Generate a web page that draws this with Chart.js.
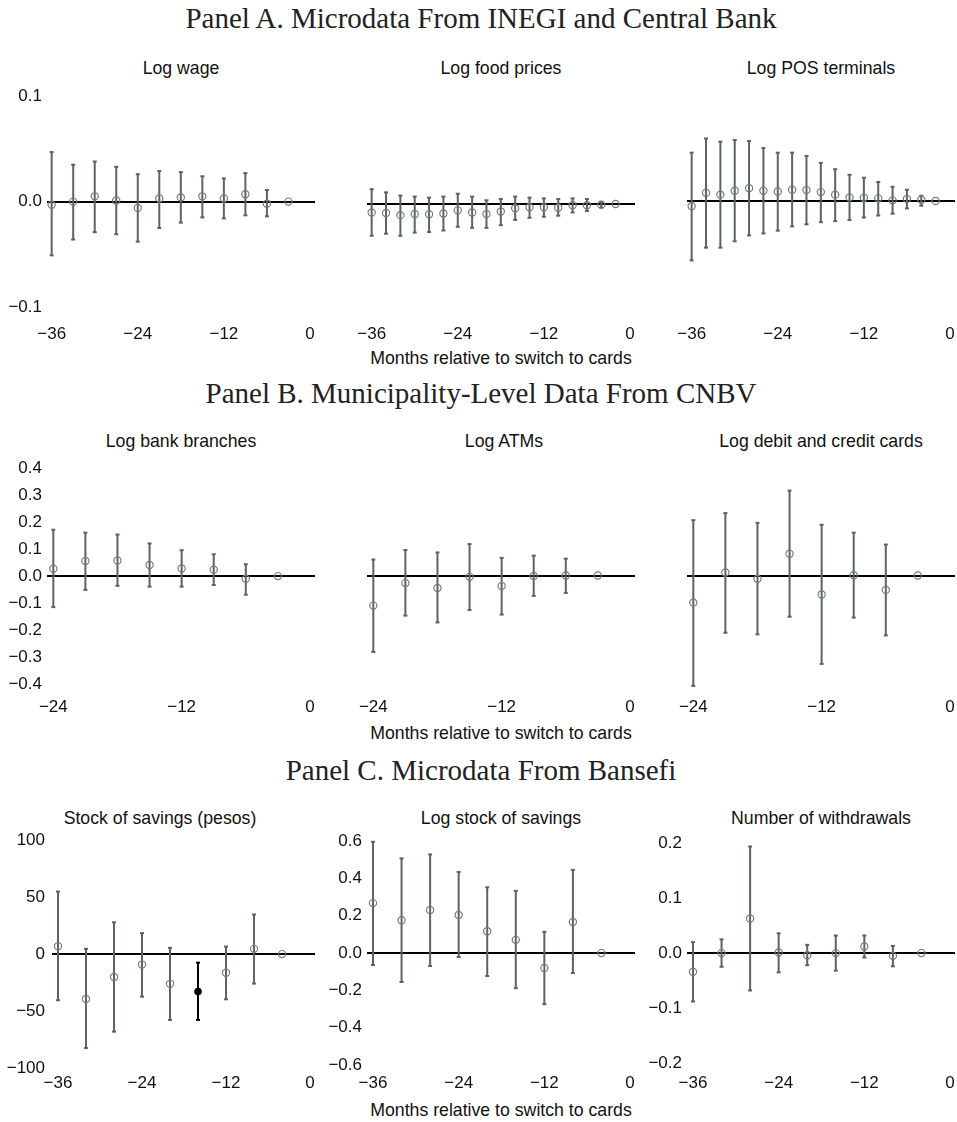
<!DOCTYPE html>
<html lang="en">
<head>
<meta charset="UTF-8">
<title>Event study: months relative to switch to cards</title>
<script src="https://cdn.jsdelivr.net/npm/chart.js"></script>
<style>
    body {
        margin: 0;
        padding: 0;
        background: #fff;
        width: 957px;
        height: 1122px;
        overflow: hidden;
        position: relative;
        font-family: "Liberation Sans", Arial, sans-serif;
        color: #111;
    }
    .heading {
        position: absolute;
        transform: translate(-50%, -50%);
        font-family: "Liberation Serif", "Times New Roman", serif;
        font-size: 29px;
        white-space: nowrap;
        color: #222;
    }
    .title, .xtitle {
        position: absolute;
        transform: translate(-50%, -50%);
        font-size: 17.7px;
        white-space: nowrap;
    }
    canvas {
        position: absolute;
    }
</style>
</head>
<body>

<div class="heading" style="left:481px; top:18px;">Panel A. Microdata From INEGI and Central Bank</div>
<div class="title" style="left:181px; top:68px;">Log wage</div>
<div class="title" style="left:501px; top:68px;">Log food prices</div>
<div class="title" style="left:821px; top:68px;">Log POS terminals</div>
<div class="xtitle" style="left:501px; top:358px;">Months relative to switch to cards</div>

<div class="heading" style="left:481px; top:393px;">Panel B. Municipality-Level Data From CNBV</div>
<div class="title" style="left:181px; top:441px;">Log bank branches</div>
<div class="title" style="left:504px; top:441px;">Log ATMs</div>
<div class="title" style="left:821px; top:441px;">Log debit and credit cards</div>
<div class="xtitle" style="left:501px; top:733px;">Months relative to switch to cards</div>

<div class="heading" style="left:481px; top:770px;">Panel C. Microdata From Bansefi</div>
<div class="title" style="left:160px; top:818px;">Stock of savings (pesos)</div>
<div class="title" style="left:501px; top:818px;">Log stock of savings</div>
<div class="title" style="left:821px; top:818px;">Number of withdrawals</div>
<div class="xtitle" style="left:501px; top:1110px;">Months relative to switch to cards</div>

<canvas id="wage"></canvas>
<canvas id="food"></canvas>
<canvas id="pos"></canvas>
<canvas id="branches"></canvas>
<canvas id="atms"></canvas>
<canvas id="cards"></canvas>
<canvas id="savings"></canvas>
<canvas id="logSavings"></canvas>
<canvas id="withdrawals"></canvas>

<script>
// ---- Panel A ----
const wageMonths = [-36, -33, -30, -27, -24, -21, -18, -15, -12, -9, -6, -3];
const wageCoef = [-0.003, 0.000, 0.005, 0.001, -0.006, 0.003, 0.004, 0.005, 0.003, 0.007, -0.002, 0];
const wageHi = [0.047, 0.035, 0.038, 0.033, 0.026, 0.029, 0.028, 0.024, 0.022, 0.027, 0.011, null];
const wageLo = [-0.051, -0.036, -0.029, -0.031, -0.038, -0.025, -0.020, -0.015, -0.016, -0.013, -0.014, null];

const foodMonths = [-36, -34, -32, -30, -28, -26, -24, -22, -20, -18, -16, -14, -12, -10, -8, -6, -4, -2];
const foodCoef = [-0.008, -0.0085, -0.0105, -0.0095, -0.0097, -0.009, -0.006, -0.008, -0.0095, -0.007, -0.004, -0.003, -0.003, -0.0035, -0.0012, -0.0012, -0.0006, 0];
const foodHi = [0.014, 0.011, 0.008, 0.007, 0.006, 0.007, 0.0097, 0.007, 0.0035, 0.0047, 0.007, 0.006, 0.0053, 0.0047, 0.0053, 0.0047, 0.002, null];
const foodLo = [-0.030, -0.028, -0.030, -0.027, -0.0265, -0.025, -0.0215, -0.0225, -0.0225, -0.020, -0.015, -0.013, -0.012, -0.011, -0.008, -0.0066, -0.0034, null];

const posMonths = [-36, -34, -32, -30, -28, -26, -24, -22, -20, -18, -16, -14, -12, -10, -8, -6, -4, -2];
const posCoef = [-0.005, 0.0078, 0.006, 0.0097, 0.012, 0.0097, 0.009, 0.0106, 0.0103, 0.0084, 0.006, 0.0034, 0.003, 0.0025, 0.0006, 0.002, 0.0012, 0];
const posHi = [0.0456, 0.059, 0.056, 0.0575, 0.0566, 0.050, 0.0456, 0.0456, 0.0425, 0.036, 0.030, 0.0247, 0.022, 0.018, 0.0134, 0.0106, 0.005, null];
const posLo = [-0.056, -0.044, -0.044, -0.038, -0.0325, -0.0306, -0.028, -0.024, -0.022, -0.020, -0.019, -0.018, -0.0156, -0.0137, -0.012, -0.007, -0.0044, null];

// ---- Panel B ----
const cnbvMonths = [-24, -21, -18, -15, -12, -9, -6, -3];
const branchesCoef = [0.027, 0.056, 0.058, 0.041, 0.028, 0.024, -0.010, 0];
const branchesHi = [0.172, 0.161, 0.154, 0.121, 0.096, 0.081, 0.044, null];
const branchesLo = [-0.115, -0.051, -0.036, -0.039, -0.039, -0.033, -0.069, null];

const atmsCoef = [-0.111, -0.028, -0.046, -0.005, -0.039, -0.002, 0.0, 0];
const atmsHi = [0.059, 0.094, 0.085, 0.116, 0.065, 0.073, 0.062, null];
const atmsLo = [-0.282, -0.148, -0.173, -0.127, -0.144, -0.075, -0.064, null];

const cardsCoef = [-0.100, 0.011, -0.012, 0.080, -0.070, 0.001, -0.053, 0];
const cardsHi = [0.204, 0.230, 0.194, 0.313, 0.187, 0.158, 0.114, null];
const cardsLo = [-0.407, -0.211, -0.217, -0.152, -0.326, -0.155, -0.221, null];

// ---- Panel C ----
const bansefiMonths = [-36, -32, -28, -24, -20, -16, -12, -8, -4];
const savingsCoef = [6.9, -39.4, -20.1, -9.2, -26.1, -32.8, -16.4, 4.6, 0];
const savingsHi = [54.9, 4.6, 27.9, 18.4, 5.5, -7.5, 6.6, 34.8, null];
const savingsLo = [-40.5, -82.5, -68.1, -37.4, -57.8, -57.8, -39.7, -25.9, null];
const savingsHighlightMonth = -16;

const logSavingsCoef = [0.268, 0.176, 0.231, 0.204, 0.117, 0.071, -0.080, 0.167, 0];
const logSavingsHi = [0.597, 0.508, 0.529, 0.435, 0.353, 0.334, 0.114, 0.446, null];
const logSavingsLo = [-0.064, -0.155, -0.069, -0.021, -0.123, -0.188, -0.274, -0.107, null];

const withdrawalsCoef = [-0.034, 0.0, 0.063, 0.001, -0.004, 0.0, 0.012, -0.005, 0];
const withdrawalsHi = [0.020, 0.025, 0.194, 0.036, 0.015, 0.032, 0.032, 0.013, null];
const withdrawalsLo = [-0.088, -0.025, -0.068, -0.035, -0.022, -0.032, -0.008, -0.024, null];

// tick labels
const xTicks36 = [-36, -24, -12, 0];
const xTicks24 = [-24, -12, 0];
const yTicksA = [-0.1, 0, 0.1];
const yTicksB = [-0.4, -0.3, -0.2, -0.1, 0, 0.1, 0.2, 0.3, 0.4];
const yTicksSavings = [-100, -50, 0, 50, 100];
const yTicksLogSavings = [-0.6, -0.4, -0.2, 0, 0.2, 0.4, 0.6];
const yTicksWithdrawals = [-0.2, -0.1, 0, 0.1, 0.2];

const BAR_COLOR = '#5a6464';
const MARK_COLOR = '#737b7b';
const FONT_FAMILY = '"Liberation Sans", Arial, sans-serif';
const FONT_SIZE = 17;

const minus = s => s.replace('-', '\u2212');
const fmt1 = v => minus(v.toFixed(1));
const fmt0 = v => minus(v.toFixed(0));

function drawPanel(c) {
    const padTop = 14;
    const xh = 40;
    const canvasTop = c.chartTop - padTop;
    const canvas = document.getElementById(c.id);
    canvas.width = 317;
    canvas.height = c.chartBottom - canvasTop + xh;
    canvas.style.left = c.left + 'px';
    canvas.style.top = canvasTop + 'px';

    const datasets = [];

    // markers (drawn on top)
    datasets.push({
        data: c.months.map((m, i) => ({ x: m, y: c.coef[i] })),
        pointStyle: 'circle',
        pointRadius: c.months.map(m => m === c.highlight ? 3.2 : 3.6),
        pointBorderWidth: 1.2,
        pointBorderColor: c.months.map(m => m === c.highlight ? '#000' : MARK_COLOR),
        pointBackgroundColor: c.months.map(m => m === c.highlight ? '#000' : 'rgba(0,0,0,0)'),
        showLine: false,
        clip: false,
        order: 0
    });

    // one small dataset per confidence interval
    c.months.forEach((m, i) => {
        if (c.lo[i] === null) return;
        const col = m === c.highlight ? '#000' : BAR_COLOR;
        datasets.push({
            data: [{ x: m, y: c.lo[i] }, { x: m, y: c.hi[i] }],
            showLine: true,
            borderColor: col,
            borderWidth: 2,
            pointStyle: 'line',
            pointRadius: 2,
            pointBorderWidth: 2,
            pointBorderColor: col,
            clip: false,
            order: 1
        });
    });

    new Chart(canvas, {
        type: 'scatter',
        data: { datasets: datasets },
        options: {
            responsive: false,
            animation: false,
            events: [],
            layout: { autoPadding: false, padding: { top: padTop, right: 2, bottom: 0, left: 0 } },
            plugins: { legend: { display: false }, tooltip: { enabled: false } },
            scales: {
                x: {
                    type: 'linear',
                    min: c.xMin,
                    max: c.xMax,
                    afterBuildTicks: s => { s.ticks = c.xTicks.map(v => ({ value: v })); },
                    afterFit: s => { s.height = xh; },
                    grid: { display: false, drawTicks: false },
                    border: { display: false },
                    ticks: {
                        // label centre sits half a line below the plot, so the line height sets the gap
                        font: { family: FONT_FAMILY, size: FONT_SIZE, lineHeight: 2 * c.xOff / FONT_SIZE },
                        color: '#111',
                        padding: 0,
                        maxRotation: 0,
                        autoSkip: false,
                        callback: v => fmt0(v)
                    }
                },
                y: {
                    type: 'linear',
                    min: c.yMin,
                    max: c.yMax,
                    afterBuildTicks: s => { s.ticks = c.yTicks.map(v => ({ value: v })); },
                    afterFit: s => { s.width = c.yw; },
                    border: { display: false },
                    grid: {
                        drawTicks: false,
                        lineWidth: 2,
                        color: ctx => ctx.tick && ctx.tick.value === 0 ? '#000' : 'rgba(0,0,0,0)'
                    },
                    ticks: {
                        display: c.showY,
                        font: { family: FONT_FAMILY, size: FONT_SIZE },
                        color: '#111',
                        padding: c.yPad || 5,
                        autoSkip: false,
                        callback: v => c.fmt(v)
                    }
                }
            }
        }
    });
}

// Panel A
drawPanel({ id: 'wage', left: 0, chartTop: 95, chartBottom: 307, yw: 47, yMin: -0.1, yMax: 0.1,
    yTicks: yTicksA, fmt: fmt1, showY: true, xMin: -36.65, xMax: 0.7, xTicks: xTicks36, xOff: 27,
    months: wageMonths, coef: wageCoef, lo: wageLo, hi: wageHi });
drawPanel({ id: 'food', left: 320, chartTop: 98, chartBottom: 310, yw: 47, yMin: -0.1, yMax: 0.1,
    yTicks: yTicksA, fmt: fmt1, showY: false, xMin: -36.65, xMax: 0.7, xTicks: xTicks36, xOff: 24,
    months: foodMonths, coef: foodCoef, lo: foodLo, hi: foodHi });
drawPanel({ id: 'pos', left: 640, chartTop: 95, chartBottom: 307, yw: 47, yMin: -0.1, yMax: 0.1,
    yTicks: yTicksA, fmt: fmt1, showY: false, xMin: -36.65, xMax: 0.7, xTicks: xTicks36, xOff: 27,
    months: posMonths, coef: posCoef, lo: posLo, hi: posHi });

// Panel B
drawPanel({ id: 'branches', left: 0, chartTop: 467, chartBottom: 684, yw: 47, yMin: -0.4, yMax: 0.4,
    yTicks: yTicksB, fmt: fmt1, showY: true, xMin: -24.59, xMax: 0.47, xTicks: xTicks24, xOff: 23,
    months: cnbvMonths, coef: branchesCoef, lo: branchesLo, hi: branchesHi });
drawPanel({ id: 'atms', left: 320, chartTop: 467, chartBottom: 684, yw: 47, yMin: -0.4, yMax: 0.4,
    yTicks: yTicksB, fmt: fmt1, showY: false, xMin: -24.59, xMax: 0.47, xTicks: xTicks24, xOff: 23,
    months: cnbvMonths, coef: atmsCoef, lo: atmsLo, hi: atmsHi });
drawPanel({ id: 'cards', left: 640, chartTop: 467, chartBottom: 684, yw: 47, yMin: -0.4, yMax: 0.4,
    yTicks: yTicksB, fmt: fmt1, showY: false, xMin: -24.59, xMax: 0.47, xTicks: xTicks24, xOff: 23,
    months: cnbvMonths, coef: cardsCoef, lo: cardsLo, hi: cardsHi });

// Panel C
drawPanel({ id: 'savings', left: 0, chartTop: 837, chartBottom: 1068, yw: 52, yPad: 7, yMin: -100, yMax: 100,
    yTicks: yTicksSavings, fmt: fmt0, showY: true, xMin: -36.86, xMax: 0.71, xTicks: xTicks36, xOff: 15,
    months: bansefiMonths, coef: savingsCoef, lo: savingsLo, hi: savingsHi, highlight: savingsHighlightMonth });
drawPanel({ id: 'logSavings', left: 320, chartTop: 840, chartBottom: 1065, yw: 47, yMin: -0.6, yMax: 0.6,
    yTicks: yTicksLogSavings, fmt: fmt1, showY: true, xMin: -36.84, xMax: 0.7, xTicks: xTicks36, xOff: 18,
    months: bansefiMonths, coef: logSavingsCoef, lo: logSavingsLo, hi: logSavingsHi });
drawPanel({ id: 'withdrawals', left: 640, chartTop: 842, chartBottom: 1063, yw: 47, yMin: -0.2, yMax: 0.2,
    yTicks: yTicksWithdrawals, fmt: fmt1, showY: true, xMin: -36.84, xMax: 0.7, xTicks: xTicks36, xOff: 20,
    months: bansefiMonths, coef: withdrawalsCoef, lo: withdrawalsLo, hi: withdrawalsHi });
</script>

</body>
</html>
